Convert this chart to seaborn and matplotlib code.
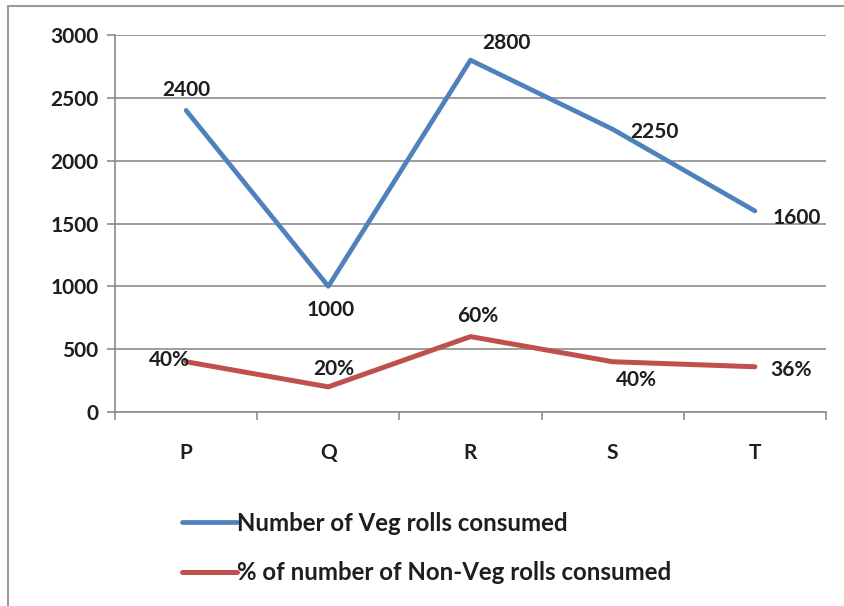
import matplotlib
matplotlib.use("Agg")
import matplotlib.pyplot as plt
import seaborn as sns
import pandas as pd
from matplotlib.patches import Rectangle

# chart data
shops = ["P", "Q", "R", "S", "T"]
veg_rolls = [2400, 1000, 2800, 2250, 1600]
nonveg_pct = [40, 20, 60, 40, 36]
nonveg_plot = [400, 200, 600, 400, 360]  # plotted on the same axis (pct x 10)

veg_name = "Number of Veg rolls consumed"
nonveg_name = "% of number of Non-Veg rolls consumed"

blue = "#4F81BD"
red = "#C0504D"
txt = "#1e1e1e"
fs = 15

sns.set_theme(style="white")
plt.rcParams["font.family"] = ["Lato", "DejaVu Sans"]

df = pd.DataFrame({"shop": shops, "veg": veg_rolls, "nonveg": nonveg_plot})
df["x"] = range(len(shops))

fig = plt.figure(figsize=(8.45, 6.06), dpi=100)
ax = fig.add_axes([115 / 845, 1 - 412 / 606, 711 / 845, 377 / 606])

sns.lineplot(data=df, x="x", y="veg", ax=ax, color=blue, linewidth=3.4, label=veg_name)
sns.lineplot(data=df, x="x", y="nonveg", ax=ax, color=red, linewidth=3.6, label=nonveg_name)

ax.set_xlim(-0.5, len(shops) - 0.5)
ax.set_ylim(0, 3000)
ax.set_yticks(range(0, 3001, 500))
ax.set_xticks(df["x"])
ax.set_xticklabels(shops)
ax.set_xticks([i - 0.5 for i in range(len(shops) + 1)], minor=True)
ax.set_xlabel("")
ax.set_ylabel("")

ax.grid(axis="y", color="#8c8c8c", linewidth=1.2)
ax.set_axisbelow(True)
for s in ["top", "right"]:
    ax.spines[s].set_visible(False)
for s in ["left", "bottom"]:
    ax.spines[s].set_color("#8c8c8c")
    ax.spines[s].set_linewidth(1.2)

ax.tick_params(axis="y", which="major", length=6, color="#8c8c8c", width=1.2,
               labelsize=fs, pad=6, left=True)
ax.tick_params(axis="x", which="major", length=0, labelsize=fs, pad=22)
ax.tick_params(axis="x", which="minor", length=6, color="#8c8c8c", width=1.2,
               direction="out", bottom=True)
for lab in ax.get_yticklabels() + ax.get_xticklabels():
    lab.set_fontweight("bold")
    lab.set_color(txt)

# data labels
veg_offsets = [(0, 15), (2, -17), (26, 12), (30, -2), (30, -5)]
for i, (v, off) in enumerate(zip(veg_rolls, veg_offsets)):
    ax.annotate(str(v), (i, v), xytext=off, textcoords="offset points",
                ha="center", va="center", fontsize=fs, fontweight="bold",
                color=txt)

red_offsets = [(-12, 1), (4, 13), (5, 15), (17, -13), (26, -2)]
for i, (v, p, off) in enumerate(zip(nonveg_plot, nonveg_pct, red_offsets)):
    ax.annotate(f"{p}%", (i, v), xytext=off, textcoords="offset points",
                ha="center", va="center", fontsize=fs, fontweight="bold",
                color=txt)

leg = ax.legend(loc="center left", bbox_to_anchor=(160 / 845, 1 - 548 / 606),
                bbox_transform=fig.transFigure, frameon=False,
                handlelength=2.3, handletextpad=0.0, labelspacing=1.1,
                prop={"weight": "bold", "size": 17.3})
for t in leg.get_texts():
    t.set_color(txt)

# outer chart border
fig.patches.append(Rectangle((8 / 845, -0.05), 1.0, 1 - 6 / 606 + 0.05,
                             transform=fig.transFigure, fill=False,
                             edgecolor="#9a9a9a", linewidth=1.5))

fig.savefig("out.png", dpi=100)
